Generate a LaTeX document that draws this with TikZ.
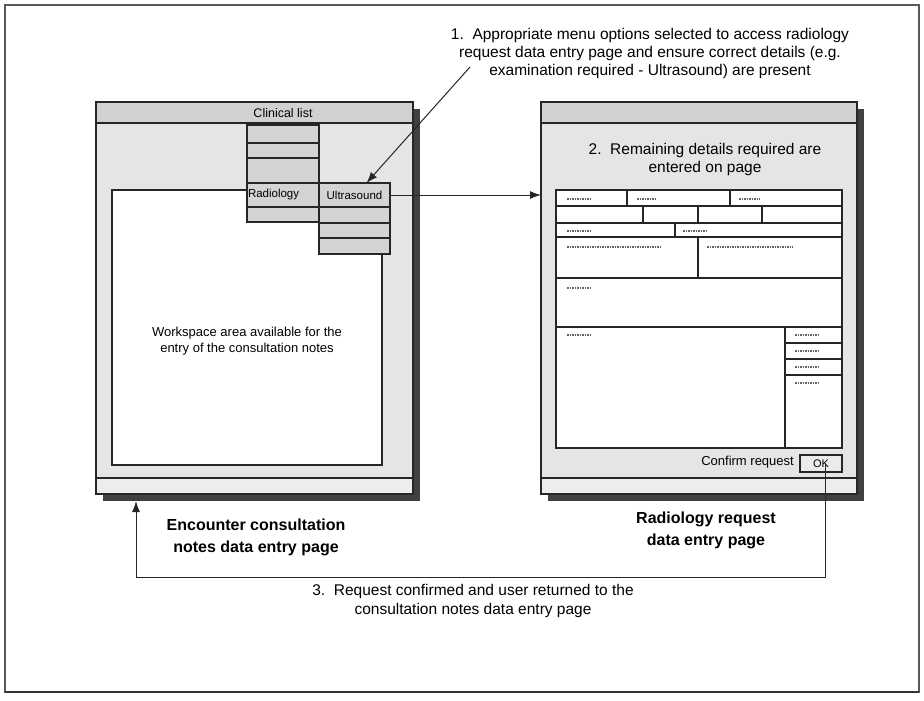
\documentclass[tikz,border=0pt]{standalone}
\usepackage{fontspec}
\setmainfont{Liberation Sans}
\usetikzlibrary{arrows.meta}

\begin{document}
\begin{tikzpicture}[
    >={Latex[length=11pt,width=8pt]},
    x=1pt, y=-1pt,
    line join=miter,
    win/.style={draw=black!85, line width=1.1pt, fill=black!10, inner sep=0pt, outer sep=0pt},
    winshadow/.style={fill=black!75, draw=none, inner sep=0pt, outer sep=0pt},
    titlebar/.style={draw=black!85, line width=1.1pt, fill=black!18, inner sep=0pt, outer sep=0pt},
    statusbar/.style={draw=black!85, line width=1.1pt, fill=black!7, inner sep=0pt, outer sep=0pt},
    workspace/.style={draw=black!85, line width=1.1pt, fill=white, inner sep=0pt, outer sep=0pt},
    cell/.style={draw=black!85, line width=1.1pt, fill=black!17, inner sep=0pt, outer sep=0pt,
        font=\fontsize{11.5}{13}\selectfont},
    okbtn/.style={draw=black!85, line width=1.2pt, fill=black!8, inner sep=0pt, outer sep=0pt,
        font=\fontsize{11}{12}\selectfont},
    menutext/.style={inner sep=0pt, font=\fontsize{12.5}{14}\selectfont},
    note/.style={align=center, inner sep=0pt, font=\fontsize{13}{16}\selectfont},
    steptext/.style={align=center, inner sep=0pt, font=\fontsize{15.5}{18}\selectfont},
    pagelabel/.style={align=center, inner sep=0pt, font=\fontsize{16}{22}\selectfont\bfseries},
    field/.style={draw=black!85, line width=1.2pt},
    stub/.style={black!60, line width=1.4pt, dash pattern=on 1.5pt off 1pt},
    link/.style={draw=black!85, line width=1pt}
]
\useasboundingbox (0,0) rectangle (924,701);

%---------------------------------
% Outer frame
%---------------------------------
\draw[black!65, line width=1.2pt] (5,5) rectangle (919,692);
\draw[black!80, line width=2.5pt] (5,692) -- (919,692);

%---------------------------------
% Encounter page (left window)
%---------------------------------
\node[winshadow, minimum width=317pt, minimum height=392pt] (encsh) at (261.5,305) {};
\node[win, minimum width=317pt, minimum height=392pt] (enc) at (254.5,298) {};
\node[titlebar, minimum width=317pt, minimum height=21pt] (enctop) at (254.5,112.5) {};
\node[statusbar, minimum width=317pt, minimum height=16pt] (encbot) at (254.5,486) {};

% workspace
\node[workspace, minimum width=270pt, minimum height=275pt] (ws) at (247,327.5) {};
\node[note] (wstext) at (247,341) {Workspace area available for the\\entry of the consultation notes};

% menu
\node[menutext] (clin) at (283,113) {Clinical list};
\node[cell, minimum width=72pt, minimum height=18pt] (m1) at (283,134) {};
\node[cell, minimum width=72pt, minimum height=15pt] (m2) at (283,150.5) {};
\node[cell, minimum width=72pt, minimum height=25pt] (m3) at (283,170.5) {};
\node[cell, text width=70pt, inner xsep=1pt, minimum height=24pt, align=left] (radio) at (283,195) {Radiology};
\node[cell, minimum width=72pt, minimum height=15pt] (m5) at (283,214.5) {};

% sub menu
\node[cell, minimum width=71pt, minimum height=24pt] (us) at (354.5,195) {Ultrasound};
\node[cell, minimum width=71pt, minimum height=16pt] (s2) at (354.5,215) {};
\node[cell, minimum width=71pt, minimum height=15pt] (s3) at (354.5,230.5) {};
\node[cell, minimum width=71pt, minimum height=16pt] (s4) at (354.5,246) {};

%---------------------------------
% Radiology request page (right window)
%---------------------------------
\node[winshadow, minimum width=316pt, minimum height=392pt] (radsh) at (705.5,305) {};
\node[win, minimum width=316pt, minimum height=392pt] (radwin) at (699,298) {};
\node[titlebar, minimum width=316pt, minimum height=21pt] (radtop) at (699,112.5) {};
\node[statusbar, minimum width=316pt, minimum height=16pt] (radbot) at (699,486) {};

\node[steptext] (step2) at (705,159) {2.\ \ Remaining details required are\\entered on page};

% form
\draw[field, fill=white] (556,190) rectangle (842,448);
\draw[field] (556,206) -- (842,206);
\draw[field] (556,223) -- (842,223);
\draw[field] (556,237) -- (842,237);
\draw[field] (556,278) -- (842,278);
\draw[field] (556,327) -- (842,327);
\draw[field] (627,190) -- (627,206);
\draw[field] (730,190) -- (730,206);
\draw[field] (643,206) -- (643,223);
\draw[field] (698,206) -- (698,223);
\draw[field] (762,206) -- (762,223);
\draw[field] (675,223) -- (675,237);
\draw[field] (698,237) -- (698,278);
\draw[field] (785,327) -- (785,448);
\draw[field] (785,343) -- (842,343);
\draw[field] (785,359) -- (842,359);
\draw[field] (785,375) -- (842,375);

% field captions
\draw[stub] (567,199) -- (590,199);
\draw[stub] (637,199) -- (656,199);
\draw[stub] (739,199) -- (760,199);
\draw[stub] (567,231) -- (590,231);
\draw[stub] (683,231) -- (708,231);
\draw[stub] (567,247) -- (662,247);
\draw[stub] (707,247) -- (793,247);
\draw[stub] (567,288) -- (590,288);
\draw[stub] (567,335) -- (590,335);
\draw[stub] (795,335) -- (819,335);
\draw[stub] (795,351) -- (819,351);
\draw[stub] (795,367) -- (819,367);
\draw[stub] (795,383) -- (819,383);

\node[menutext, anchor=east, font=\fontsize{13}{15}\selectfont] (confirm) at (794,462) {Confirm request};
\node[okbtn, minimum width=42pt, minimum height=17pt] (ok) at (821,463.5) {OK};

%---------------------------------
% Labels
%---------------------------------
\node[steptext] (step1) at (650,53) {1.\ \ Appropriate menu options selected to access radiology\\request data entry page and ensure correct details (e.g.\\examination required - Ultrasound) are present};
\node[pagelabel] (enclbl) at (256,537) {Encounter consultation\\notes data entry page};
\node[pagelabel] (radlbl) at (706,530) {Radiology request\\data entry page};
\node[steptext, font=\fontsize{15.5}{19}\selectfont] (step3) at (473,601) {3.\ \ Request confirmed and user returned to the\\consultation notes data entry page};

%---------------------------------
% Arrows
%---------------------------------
\coordinate (s1) at (470,67);
\coordinate (back) at (136,577);

\draw[link, ->] (s1) -- ([xshift=12pt]us.north);
\draw[link, ->] (us.east) -- (us.east -| radwin.west);
\draw[link, ->] ([xshift=4pt]ok.center) |- (back) -- (back |- encsh.south);

\end{tikzpicture}
\end{document}
